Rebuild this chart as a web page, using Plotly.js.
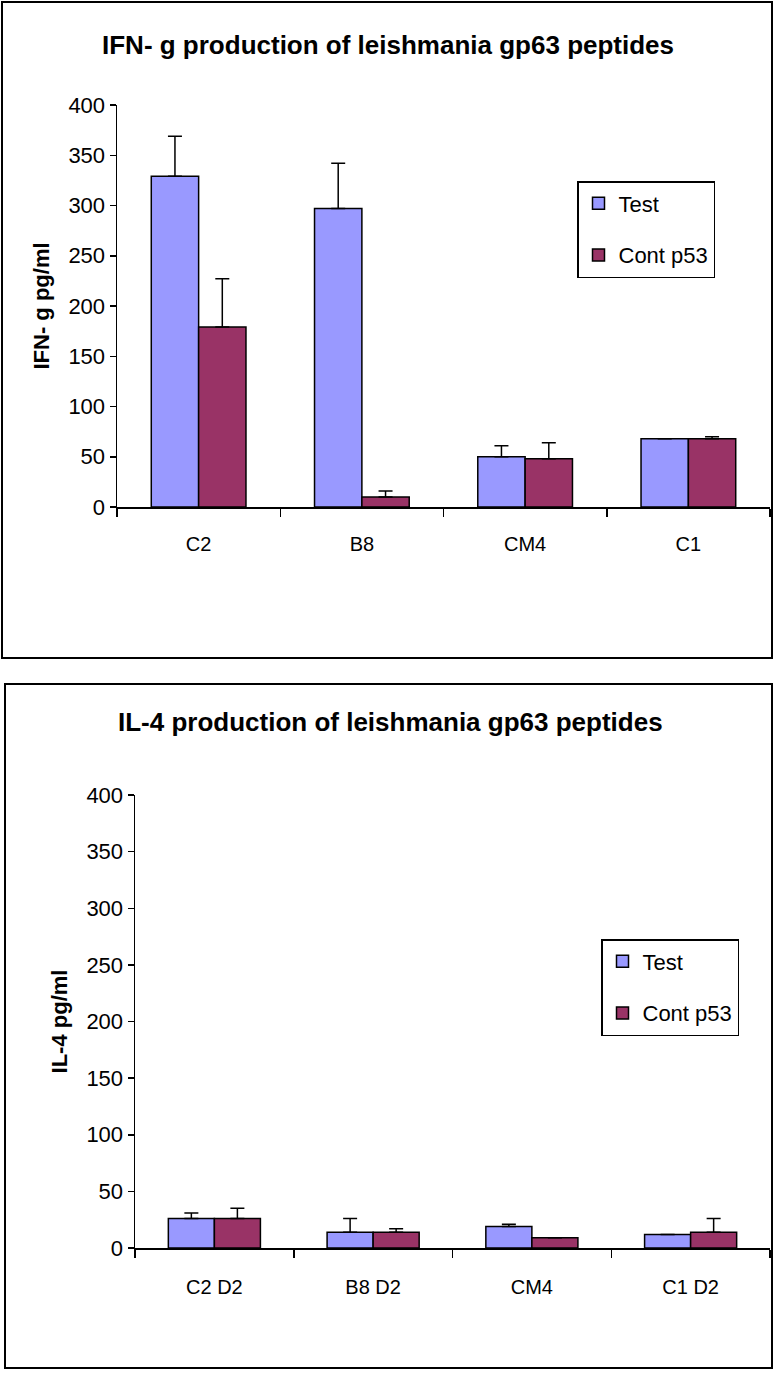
<!DOCTYPE html>
<html>
<head>
<meta charset="utf-8">
<script src="https://cdn.plot.ly/plotly-3.0.1.min.js"></script>
<style>html,body{margin:0;padding:0;background:#fff;}#chart{width:774px;height:1378px;}</style>
</head>
<body>
<div id="chart"></div>
<script>
// ---- Data ----
const seriesNames = ["Test", "Cont p53"];
const ifnCategories = ["C2", "B8", "CM4", "C1"];
const ifnTest = [329, 297, 50, 68];
const ifnTestErr = [40, 45, 11, 0];
const ifnCont = [179, 10, 48, 68];
const ifnContErr = [48, 6, 16, 2];

const il4Categories = ["C2 D2", "B8 D2", "CM4", "C1 D2"];
const il4Test = [26, 14, 19, 12];
const il4TestErr = [5, 12, 2, 0];
const il4Cont = [26, 14, 9, 14];
const il4ContErr = [9, 3, 0, 12];

const titleTop = "IFN- g production of leishmania gp63 peptides";
const titleBottom = "IL-4 production of leishmania gp63 peptides";
const yTitleTop = "IFN- g pg/ml";
const yTitleBottom = "IL-4 pg/ml";

// ---- Styles ----
const W = 774, H = 1378;
const FONT = "'Liberation Sans Narrow', 'Liberation Sans', Arial, sans-serif";
const BOLD = "'Liberation Sans', Arial, sans-serif";
const colors = ["#9999FF", "#993366"];
const px = x => x / W;
const py = y => (H - y) / H;

function barTrace(cats, vals, errs, i, xa, ya, leg) {
  return {
    type: "bar", x: cats, y: vals, name: seriesNames[i],
    xaxis: xa, yaxis: ya, legend: leg, legendgroup: leg + i,
    marker: {color: colors[i], line: {color: "#000", width: 1.5}},
    error_y: {type: "data", array: errs, arrayminus: errs.map(() => 0), symmetric: false,
              color: "#000", thickness: 1.5, width: 7},
    hoverinfo: "x+y"
  };
}

const data = [
  barTrace(ifnCategories, ifnTest, ifnTestErr, 0, "x", "y", "legend"),
  barTrace(ifnCategories, ifnCont, ifnContErr, 1, "x", "y", "legend"),
  barTrace(il4Categories, il4Test, il4TestErr, 0, "x2", "y2", "legend2"),
  barTrace(il4Categories, il4Cont, il4ContErr, 1, "x2", "y2", "legend2")
];

function xAxis(domain, anchor, standoff) {
  return {
    domain: domain, anchor: anchor, showline: true, linecolor: "#000", linewidth: 1.5,
    ticks: "outside", ticklen: 8, tickwidth: 1.5, tickcolor: "#000", tickson: "boundaries",
    showgrid: false, zeroline: false, fixedrange: true, ticklabelstandoff: standoff,
    tickfont: {family: FONT, size: 20, color: "#000"}
  };
}
function yAxis(domain, anchor, title) {
  return {
    domain: domain, anchor: anchor, range: [0, 400], dtick: 50, showline: true,
    linecolor: "#000", linewidth: 1.5, ticks: "outside", ticklen: 6, tickwidth: 1.5,
    tickcolor: "#000", showgrid: false, zeroline: false, fixedrange: true,
    tickfont: {family: FONT, size: 22, color: "#000"},
    title: {text: "<b>" + title + "</b>", font: {family: BOLD, size: 22, color: "#000"}, standoff: 12}
  };
}

const layout = {
  width: W, height: H, margin: {l: 0, r: 0, t: 0, b: 0},
  paper_bgcolor: "#fff", plot_bgcolor: "#fff",
  barmode: "group", bargap: 0.42, bargroupgap: 0,
  font: {family: FONT, color: "#000"},
  xaxis: xAxis([px(117), px(770)], "y", 18),
  yaxis: yAxis([py(507), py(105)], "x", yTitleTop),
  xaxis2: xAxis([px(135), px(770)], "y2", 20),
  yaxis2: yAxis([py(1248), py(795)], "x2", yTitleBottom),
  legend: {x: px(577), y: py(181), xanchor: "left", yanchor: "top",
           bordercolor: "#000", borderwidth: 1.5, bgcolor: "#fff",
           font: {family: FONT, size: 22, color: "#000"}, tracegroupgap: 20, traceorder: "grouped"},
  legend2: {x: px(601), y: py(939), xanchor: "left", yanchor: "top",
           bordercolor: "#000", borderwidth: 1.5, bgcolor: "#fff",
           font: {family: FONT, size: 22, color: "#000"}, tracegroupgap: 20, traceorder: "grouped"},
  showlegend: true,
  annotations: [
    {text: "<b>" + titleTop + "</b>", xref: "paper", yref: "paper", x: px(388), y: py(45),
     xanchor: "center", yanchor: "middle", showarrow: false,
     font: {family: BOLD, size: 26, color: "#000"}},
    {text: "<b>" + titleBottom + "</b>", xref: "paper", yref: "paper", x: px(390), y: py(722),
     xanchor: "center", yanchor: "middle", showarrow: false,
     font: {family: BOLD, size: 26, color: "#000"}}
  ],
  shapes: [
    {type: "rect", xref: "paper", yref: "paper", x0: px(2), x1: px(772), y0: py(658), y1: py(2),
     line: {color: "#000", width: 2}},
    {type: "rect", xref: "paper", yref: "paper", x0: px(5), x1: px(772), y0: py(1368), y1: py(684),
     line: {color: "#000", width: 2}}
  ]
};

Plotly.newPlot("chart", data, layout, {displayModeBar: false, staticPlot: true});
</script>
</body>
</html>
